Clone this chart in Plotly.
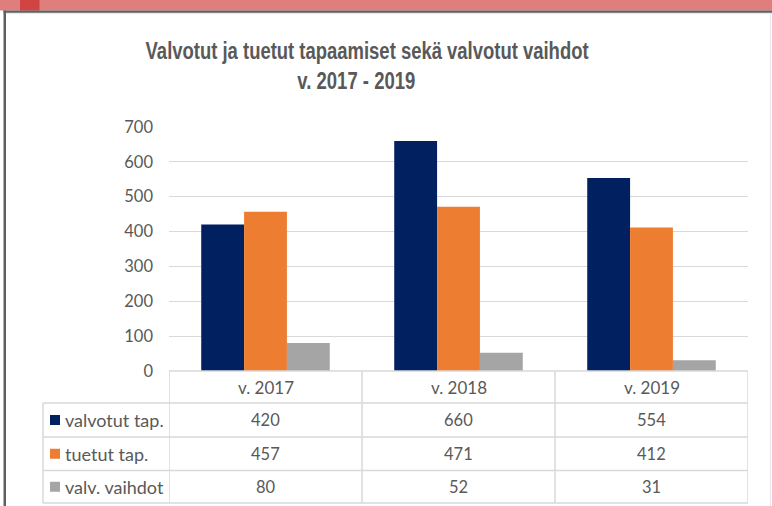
import json
import plotly.graph_objects as go

categories = ["v. 2017", "v. 2018", "v. 2019"]
series_names = ["valvotut tap.", "tuetut tap.", "valv. vaihdot"]
valvotut = [420, 660, 554]
tuetut = [457, 471, 412]
vaihdot = [80, 52, 31]
series_values = [valvotut, tuetut, vaihdot]
colors = ["#002060", "#ED7D31", "#A5A5A5"]
y_ticks = [0, 100, 200, 300, 400, 500, 600, 700]
title_line1 = "Valvotut ja tuetut tapaamiset sekä valvotut vaihdot"
title_line2 = "v. 2017 - 2019"

W, H = 772, 506
PL, PR, PT, PB = 169, 748, 127, 371
TEXT = "#595959"
GRID = "#D9D9D9"
BODY_FONT = "Lato"


def px(x):
    return (x - PL) / (PR - PL)


def py(y):
    return (PB - y) / (PB - PT)


fig = go.Figure()
for name, vals, col in zip(series_names, series_values, colors):
    fig.add_trace(go.Bar(x=categories, y=vals, name=name, marker=dict(color=col, line=dict(width=0))))

shapes = []
annotations = []

# frame
shapes.append(dict(type="rect", xref="paper", yref="paper", x0=px(0), x1=px(W), y0=py(0), y1=py(10.5),
                   fillcolor="#E07D7D", line=dict(width=0), layer="above"))
shapes.append(dict(type="rect", xref="paper", yref="paper", x0=px(20), x1=px(39.5), y0=py(0), y1=py(10.5),
                   fillcolor="#D24343", line=dict(width=0), layer="above"))
shapes.append(dict(type="rect", xref="paper", yref="paper", x0=px(3.5), x1=px(W), y0=py(10.5), y1=py(12.7),
                   fillcolor="#5F5F5F", line=dict(width=0), layer="above"))
shapes.append(dict(type="rect", xref="paper", yref="paper", x0=px(3.5), x1=px(6), y0=py(10.5), y1=py(H),
                   fillcolor="#5F5F5F", line=dict(width=0), layer="above"))
shapes.append(dict(type="line", xref="paper", yref="paper", x0=px(6), x1=px(W), y0=py(13.5), y1=py(13.5),
                   line=dict(color="#E6E6E6", width=1), layer="above"))
shapes.append(dict(type="line", xref="paper", yref="paper", x0=px(770.5), x1=px(770.5), y0=py(14), y1=py(H),
                   line=dict(color="#E6E6E6", width=1), layer="above"))

# data table geometry (pixels)
row_tops = [371, 403, 437, 470.5, 503]
left_col = 43
line_style = dict(color=GRID, width=1.5)

for i in range(len(categories) + 1):
    shapes.append(dict(type="line", xref="x", yref="paper", x0=i - 0.5, x1=i - 0.5,
                       y0=py(row_tops[0]), y1=py(row_tops[-1]), line=line_style, layer="above"))
shapes.append(dict(type="line", xref="paper", yref="paper", x0=px(left_col), x1=px(left_col),
                   y0=py(row_tops[1]), y1=py(row_tops[-1]), line=line_style, layer="above"))
for k, yy in enumerate(row_tops):
    x0 = px(PL) if k == 0 else px(left_col)
    shapes.append(dict(type="line", xref="paper", yref="paper", x0=x0, x1=px(PR),
                       y0=py(yy), y1=py(yy), line=line_style, layer="above"))

for i, c in enumerate(categories):
    annotations.append(dict(x=i, xref="x", y=py((row_tops[0] + row_tops[1]) / 2), yref="paper",
                            text=c, showarrow=False, xanchor="center", yanchor="middle",
                            font=dict(family=BODY_FONT, size=17, color=TEXT)))

for r, (name, vals, col) in enumerate(zip(series_names, series_values, colors)):
    yc = (row_tops[r + 1] + row_tops[r + 2]) / 2
    shapes.append(dict(type="rect", xref="paper", yref="paper", x0=px(50), x1=px(60),
                       y0=py(yc - 5), y1=py(yc + 5), fillcolor=col, line=dict(width=0), layer="above"))
    annotations.append(dict(x=px(63), xref="paper", y=py(yc), yref="paper", text=name, showarrow=False,
                            xanchor="left", yanchor="middle",
                            font=dict(family=BODY_FONT, size=18, color=TEXT)))
    for i, v in enumerate(vals):
        annotations.append(dict(x=i, xref="x", y=py(yc), yref="paper", text=str(v), showarrow=False,
                                xanchor="center", yanchor="middle",
                                font=dict(family=BODY_FONT, size=16.5, color=TEXT)))

# title (rendered narrower, like the condensed original)
TFONT = dict(family="Liberation Sans", size=23, color=TEXT)
annotations.append(dict(x=px(366.5), xref="paper", y=py(51), yref="paper", text="<b>%s</b>" % title_line1,
                        showarrow=False, xanchor="center", yanchor="middle", font=TFONT))
annotations.append(dict(x=px(356), xref="paper", y=py(81), yref="paper", text="<b>%s</b>" % title_line2,
                        showarrow=False, xanchor="center", yanchor="middle", font=TFONT))

fig.update_layout(
    width=W, height=H,
    margin=dict(l=PL, r=W - PR, t=PT, b=H - PB, pad=0),
    paper_bgcolor="white", plot_bgcolor="white",
    barmode="group", bargap=0.334, bargroupgap=0,
    showlegend=False,
    shapes=shapes, annotations=annotations,
    xaxis=dict(showticklabels=False, showgrid=False, zeroline=False, showline=False, ticks="",
               range=[-0.5, 2.5], fixedrange=True),
    yaxis=dict(range=[0, 700], tickvals=y_ticks, showgrid=True, gridcolor=GRID, gridwidth=1.3,
               zeroline=False, showline=False, ticks="", ticklabelstandoff=15,
               tickfont=dict(family=BODY_FONT, size=16.5, color=TEXT), fixedrange=True),
)

title_widths = {title_line1: 443, title_line2: 118}
post = (
    "document.body.style.margin='0px';document.body.style.overflow='hidden';"
    "var tw=" + json.dumps(title_widths) + ";"
    "document.querySelectorAll('text.annotation-text').forEach(function(t){"
    "var k=t.textContent;if(tw[k]){t.setAttribute('textLength',tw[k]);"
    "t.setAttribute('lengthAdjust','spacingAndGlyphs');}});"
)
fig.write_html("out.html", config=dict(displayModeBar=False), post_script=post)
